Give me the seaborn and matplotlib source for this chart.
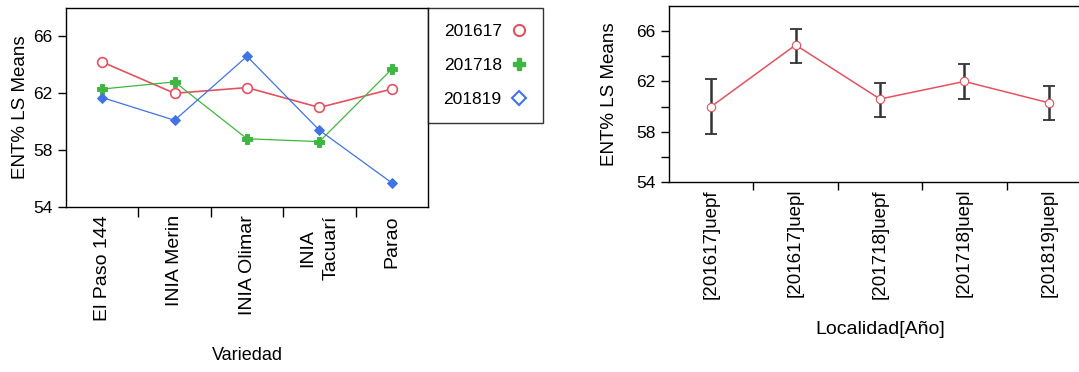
import numpy as np
import pandas as pd
import matplotlib
matplotlib.use('Agg')
import matplotlib.pyplot as plt
from matplotlib.lines import Line2D
import seaborn as sns

# data
variedades = ['El Paso 144', 'INIA Merin', 'INIA Olimar', 'INIA\nTacuarí', 'Parao']
anios = ['201617', '201718', '201819']
ent_201617 = [64.2, 62.0, 62.4, 61.0, 62.3]
ent_201718 = [62.3, 62.8, 58.8, 58.6, 63.7]
ent_201819 = [61.7, 60.1, 64.6, 59.4, 55.7]

localidades = ['[201617]uepf', '[201617]uepl', '[201718]uepf', '[201718]uepl', '[201819]uepl']
ent_loc = [60.0, 64.9, 60.6, 62.0, 60.3]
ent_loc_lo = [57.8, 63.5, 59.2, 60.6, 58.9]
ent_loc_hi = [62.2, 66.2, 61.9, 63.4, 61.6]

sns.set_style('white')
plt.rcParams['font.family'] = ['Liberation Sans', 'DejaVu Sans']
plt.rcParams['text.color'] = 'black'
plt.rcParams['axes.labelcolor'] = 'black'
plt.rcParams['xtick.color'] = 'black'
plt.rcParams['ytick.color'] = 'black'

colores = ['#e4525f', '#3fb63f', '#3f73e6']

df = pd.DataFrame({
    'Variedad': variedades * 3,
    'ENT': ent_201617 + ent_201718 + ent_201819,
    'Año': [a for a in anios for _ in variedades],
})

fig = plt.figure(figsize=(10.79, 3.72), dpi=100)

# left panel: ENT by Variedad and year
ax1 = fig.add_axes([66 / 1079, (372 - 207) / 372, 362 / 1079, 199 / 372])
sns.pointplot(data=df, x='Variedad', y='ENT', hue='Año', order=variedades,
              hue_order=anios, palette=colores, markers=['o', 'P', 'D'],
              linestyles='-', errorbar=None, dodge=False, legend=False,
              linewidth=0.9, markersize=7, ax=ax1)
ax1.lines[0].set_markerfacecolor('white')
ax1.lines[0].set_markeredgewidth(1.2)
ax1.lines[0].set_linewidth(1.2)
ax1.lines[2].set_markersize(5)
ax1.set_xlim(-0.5, 4.5)
ax1.set_ylim(54, 68)
ax1.set_yticks([54, 58, 62, 66])
ax1.set_xticks(np.arange(len(variedades)))
ax1.set_xticklabels(variedades, rotation=90, va='top', ha='center', fontsize=14,
                    linespacing=1.5)
ax1.set_xticks(np.arange(len(variedades) - 1) + 0.5, minor=True)
ax1.tick_params(axis='x', which='major', length=0, pad=6)
ax1.tick_params(axis='x', which='minor', length=7, width=1, direction='out', bottom=True)
ax1.tick_params(axis='y', length=6, width=1, direction='out', left=True, labelsize=12.5)
ax1.set_xlabel('Variedad', fontsize=13, labelpad=19)
ax1.set_ylabel('ENT% LS Means', fontsize=13.5, labelpad=3)
for s in ax1.spines.values():
    s.set_color('black')
    s.set_linewidth(1.0)

handles = [Line2D([], [], linestyle='none', marker='o', markersize=8, color=colores[0],
                  markerfacecolor='white', markeredgewidth=1.5),
           Line2D([], [], linestyle='none', marker='P', markersize=9, color=colores[1]),
           Line2D([], [], linestyle='none', marker='D', markersize=7, color=colores[2],
                  markerfacecolor='white', markeredgewidth=1.5)]
leg = ax1.legend(handles, anios, loc='upper left', bbox_to_anchor=(1.0, 1.0),
                 borderaxespad=0, markerfirst=False, fancybox=False, frameon=True,
                 prop={'size': 12.5}, handlelength=1.0,
                 handletextpad=0.5, labelspacing=1.1, borderpad=0.9)
leg.get_frame().set_edgecolor('black')
leg.get_frame().set_linewidth(1.0)

# right panel: ENT by Localidad[Año]
ax2 = fig.add_axes([669 / 1079, (372 - 182) / 372, 422 / 1079, 176 / 372])
sns.pointplot(x=localidades, y=ent_loc, order=localidades, color='#e4525f',
              markers='o', linestyles='-', errorbar=None, linewidth=1.1,
              markersize=6, ax=ax2)
ax2.lines[0].set_markerfacecolor('white')
pos = np.arange(len(localidades))
ax2.errorbar(pos, ent_loc,
             yerr=[np.array(ent_loc) - np.array(ent_loc_lo),
                   np.array(ent_loc_hi) - np.array(ent_loc)],
             fmt='none', ecolor='#333333', elinewidth=1.8, capsize=4, capthick=1.3,
             zorder=1)
ax2.set_xlim(-0.5, 4.5)
ax2.set_ylim(54, 68)
yt = [54, 56, 58, 60, 62, 64, 66]
ax2.set_yticks(yt)
ax2.set_yticklabels([str(v) if v % 4 == 2 else '' for v in yt])
ax2.set_xticks(pos)
ax2.set_xticklabels(localidades, rotation=90, va='top', ha='center', fontsize=13.5)
ax2.set_xticks(pos[:-1] + 0.5, minor=True)
ax2.tick_params(axis='x', which='major', length=0, pad=5)
ax2.tick_params(axis='x', which='minor', length=6, width=1, direction='out', bottom=True)
ax2.tick_params(axis='y', length=6, width=1, direction='out', left=True, labelsize=12.5)
ax2.set_xlabel('Localidad[Año]', fontsize=14, labelpad=16)
ax2.set_ylabel('ENT% LS Means', fontsize=13.5, labelpad=13)
for s in ax2.spines.values():
    s.set_color('black')
    s.set_linewidth(1.0)

fig.savefig('out.png', dpi=100)
